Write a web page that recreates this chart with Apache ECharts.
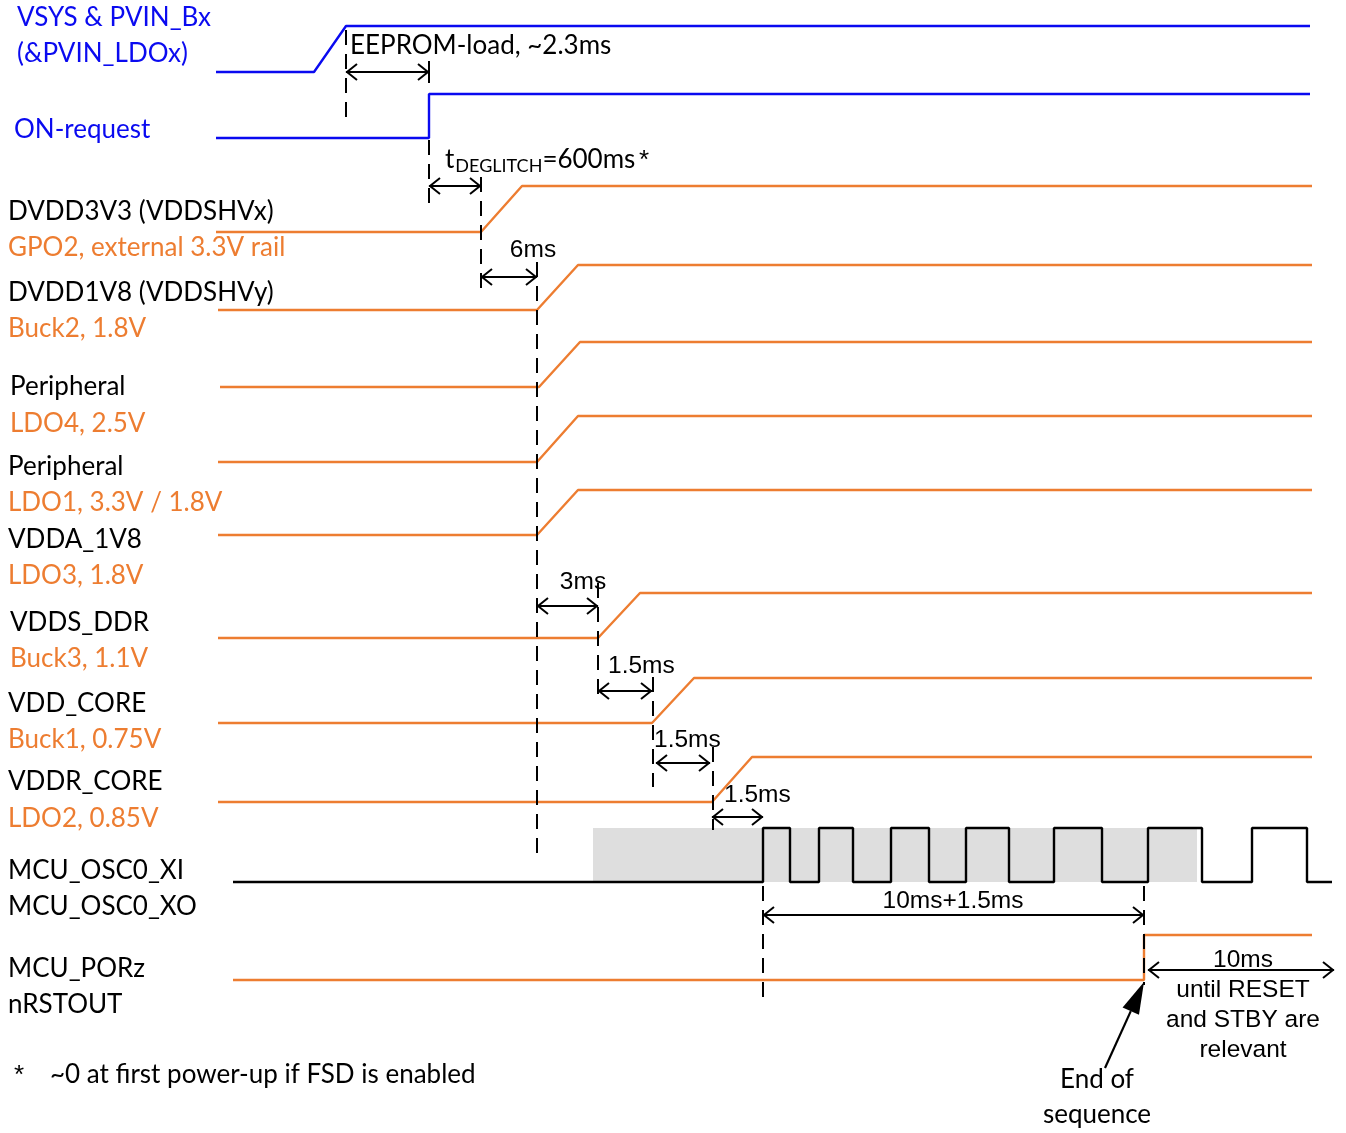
<!DOCTYPE html>
<html><head><meta charset="utf-8">
<script src="https://cdn.jsdelivr.net/npm/echarts@6/dist/echarts.min.js"></script>
<style>html,body{margin:0;padding:0;background:#fff}#c{width:1346px;height:1133px}</style>
</head><body><div id="c"></div>
<script>
// ---------- data ----------
const BLUE = '#0a0af0', ORANGE = '#ed7d31', BLACK = '#000000', GREY = '#dedede';

// supply input and ON request (blue)
const vsysTimes  = [216, 314, 346, 1310];
const vsysLevels = [72, 72, 26, 26];
const onReqTimes  = [216, 429, 429, 1310];
const onReqLevels = [138, 138, 94, 94];

// PMIC rails (orange): low level, ramp, high level
const railNames   = ['DVDD3V3 (VDDSHVx)', 'DVDD1V8 (VDDSHVy)', 'Peripheral', 'Peripheral', 'VDDA_1V8', 'VDDS_DDR', 'VDD_CORE', 'VDDR_CORE'];
const railSources = ['GPO2, external 3.3V rail', 'Buck2, 1.8V', 'LDO4, 2.5V', 'LDO1, 3.3V / 1.8V', 'LDO3, 1.8V', 'Buck3, 1.1V', 'Buck1, 0.75V', 'LDO2, 0.85V'];
const railFrom      = [216, 218, 220, 218, 218, 218, 218, 218];
const railRampStart = [481, 537, 539, 537, 537, 598, 652, 712];
const railRampEnd   = [522, 578, 580, 578, 578, 640, 694, 752];
const railTo        = [1312, 1312, 1312, 1312, 1312, 1312, 1312, 1312];
const railLow       = [232, 310, 387, 462, 535, 638, 723, 802];
const railHigh      = [186, 265, 342, 416, 490, 593, 678, 757];
const railNameY     = [212, 293, 387, 467, 540, 623, 704, 782];
const railSourceY   = [248, 329, 424, 503, 576, 659, 740, 819];
const railNameX     = [8, 8, 10, 8, 8, 10, 8, 8];

// oscillator
const clockFrom = 233, clockTo = 1332, clockLow = 882, clockHigh = 828;
const clockEdges = [763, 790, 819, 853, 891, 929, 966, 1009, 1054, 1102, 1148, 1202, 1252, 1307];
const clockUnstable = [593, 1197]; // grey "not yet stable" band

// MCU_PORz / nRSTOUT
const porTimes  = [233, 1144, 1144, 1312];
const porLevels = [980, 980, 935, 935];

// timing markers (dashed verticals)
const markerX      = [346, 429, 481, 537, 598, 653, 713, 763, 1144];
const markerTop    = [30, 140, 177, 262, 583, 677, 747, 886, 886];
const markerBottom = [120, 205, 292, 855, 702, 787, 830, 1000, 985];

// delay spans (double arrows)
const spanFrom  = [346, 429, 481, 537, 598, 656, 712, 763, 1148];
const spanTo    = [429, 481, 537, 598, 652, 710, 763, 1144, 1334];
const spanLevel = [72, 186, 277, 606, 691, 763, 817, 915, 970];
const spanLabels = ['EEPROM-load, ~2.3ms', '=600ms', '6ms', '3ms', '1.5ms', '1.5ms', '1.5ms', '10ms+1.5ms', '10ms'];

// ---------- chart ----------
const chart = echarts.init(document.getElementById('c'), null, {renderer: 'canvas'});
const CAL = 'Lato, "Open Sans", sans-serif';
const ARI = '"Liberation Sans", Arial, sans-serif';
const fCal = 26, fAri = 24.5;

function pairs(xs, ys) { return xs.map((x, i) => [x, ys[i]]); }
function lineSeries(data, color, z) {
  return {type: 'line', data, symbol: 'none', animation: false, silent: true, z: z || 3,
    lineStyle: {color, width: 2.4}, itemStyle: {color}};
}
const series = [];

// grey band
series.push({type: 'custom', animation: false, silent: true, z: 1,
  data: [[clockUnstable[0], clockUnstable[1], clockHigh, clockLow]],
  renderItem(p, api) {
    const a = api.coord([api.value(0), api.value(2)]), b = api.coord([api.value(1), api.value(3)]);
    return {type: 'rect', shape: {x: a[0], y: a[1], width: b[0] - a[0], height: b[1] - a[1]}, style: {fill: GREY}};
  }});

series.push(lineSeries(pairs(vsysTimes, vsysLevels), BLUE));
series.push(lineSeries(pairs(onReqTimes, onReqLevels), BLUE));
railNames.forEach((n, i) => {
  series.push(lineSeries([[railFrom[i], railLow[i]], [railRampStart[i], railLow[i]], [railRampEnd[i], railHigh[i]], [railTo[i], railHigh[i]]], ORANGE));
});
// clock
(function () {
  const pts = [[clockFrom, clockLow]];
  let lvl = clockLow;
  clockEdges.forEach(t => { pts.push([t, lvl]); lvl = (lvl === clockLow) ? clockHigh : clockLow; pts.push([t, lvl]); });
  pts.push([clockTo, lvl]);
  series.push(lineSeries(pts, BLACK));
})();
series.push(lineSeries(pairs(porTimes, porLevels), ORANGE));

// dashed markers
series.push({type: 'custom', animation: false, silent: true, z: 4,
  data: markerX.map((x, i) => [x, markerTop[i], markerBottom[i]]),
  renderItem(p, api) {
    const a = api.coord([api.value(0), api.value(1)]), b = api.coord([api.value(0), api.value(2)]);
    return {type: 'line', shape: {x1: a[0], y1: a[1], x2: b[0], y2: b[1]},
      style: {stroke: BLACK, lineWidth: 2, lineDash: [15, 9]}};
  }});
// solid end bar of EEPROM arrow
series.push({type: 'custom', animation: false, silent: true, z: 4,
  data: [[spanTo[0], spanLevel[0] - 11, spanLevel[0] + 11]],
  renderItem(p, api) {
    const a = api.coord([api.value(0), api.value(1)]), b = api.coord([api.value(0), api.value(2)]);
    return {type: 'line', shape: {x1: a[0], y1: a[1], x2: b[0], y2: b[1]}, style: {stroke: BLACK, lineWidth: 2}};
  }});

// double arrows
series.push({type: 'custom', animation: false, silent: true, z: 5,
  data: spanFrom.map((x, i) => [x, spanTo[i], spanLevel[i]]),
  renderItem(p, api) {
    const a = api.coord([api.value(0), api.value(2)]), b = api.coord([api.value(1), api.value(2)]);
    const h = 11, w = 8;
    const st = {stroke: BLACK, lineWidth: 2, fill: null};
    return {type: 'group', children: [
      {type: 'line', shape: {x1: a[0], y1: a[1], x2: b[0], y2: b[1]}, style: st},
      {type: 'polyline', shape: {points: [[a[0] + h, a[1] - w], [a[0] + 1, a[1]], [a[0] + h, a[1] + w]]}, style: st},
      {type: 'polyline', shape: {points: [[b[0] - h, b[1] - w], [b[0] - 1, b[1]], [b[0] - h, b[1] + w]]}, style: st}
    ]};
  }});

// "End of sequence" pointer
series.push({type: 'custom', animation: false, silent: true, z: 6,
  data: [[1105, 1068, 1144, 982]],
  renderItem(p, api) {
    const s = api.coord([api.value(0), api.value(1)]), e = api.coord([api.value(2), api.value(3)]);
    const dx = e[0] - s[0], dy = e[1] - s[1], L = Math.hypot(dx, dy), ux = dx / L, uy = dy / L;
    const hl = 32, hw = 9;
    const bx = e[0] - ux * hl, by = e[1] - uy * hl;
    return {type: 'group', children: [
      {type: 'line', shape: {x1: s[0], y1: s[1], x2: bx, y2: by}, style: {stroke: BLACK, lineWidth: 2.2}},
      {type: 'polygon', shape: {points: [[e[0], e[1]], [bx - uy * hw, by + ux * hw], [bx + uy * hw, by - ux * hw]]}, style: {fill: BLACK}}
    ]};
  }});

// ---------- texts ----------
const texts = [];
function T(text, x, y, color, font, size, align) { texts.push({text, x, y, color, font, size, align: align || 'left'}); }
T('VSYS & PVIN_Bx', 17, 18, BLUE, CAL, fCal);
T('(&PVIN_LDOx)', 17, 54, BLUE, CAL, fCal);
T('ON-request', 14, 130, BLUE, CAL, fCal);
railNames.forEach((n, i) => {
  T(n, railNameX[i], railNameY[i], BLACK, CAL, fCal);
  T(railSources[i], railNameX[i], railSourceY[i], ORANGE, CAL, fCal);
});
T('MCU_OSC0_XI', 8, 871, BLACK, CAL, fCal);
T('MCU_OSC0_XO', 8, 907, BLACK, CAL, fCal);
T('MCU_PORz', 8, 969, BLACK, CAL, fCal);
T('nRSTOUT', 8, 1005, BLACK, CAL, fCal);
T(spanLabels[0], 350, 46, BLACK, CAL, fCal);
T(spanLabels[2], 533, 250, BLACK, ARI, fAri, 'center');
T(spanLabels[3], 583, 582, BLACK, ARI, fAri, 'center');
T(spanLabels[4], 608, 666, BLACK, ARI, fAri);
T(spanLabels[5], 654, 740, BLACK, ARI, fAri);
T(spanLabels[6], 724, 795, BLACK, ARI, fAri);
T(spanLabels[7], 953, 901, BLACK, ARI, fAri, 'center');
T(spanLabels[8], 1243, 960, BLACK, ARI, fAri, 'center');
T('until RESET', 1243, 990, BLACK, ARI, fAri, 'center');
T('and STBY are', 1243, 1020, BLACK, ARI, fAri, 'center');
T('relevant', 1243, 1050, BLACK, ARI, fAri, 'center');
T('End of', 1097, 1080, BLACK, CAL, fCal, 'center');
T('sequence', 1097, 1115, BLACK, CAL, fCal, 'center');
T('*', 14, 1076, BLACK, ARI, 26);
T('~0 at first power-up if FSD is enabled', 50, 1075, BLACK, CAL, fCal);

series.push({type: 'custom', animation: false, silent: true, z: 10,
  data: texts.map(t => [t.x, t.y]),
  renderItem(p, api) {
    const t = texts[p.dataIndex];
    const c = api.coord([api.value(0), api.value(1)]);
    return {type: 'text', x: c[0], y: c[1], style: {text: t.text, fill: t.color,
      font: t.size + 'px ' + t.font, textAlign: t.align, textVerticalAlign: 'middle'}};
  }});

// t_DEGLITCH label with subscript
const measure = document.createElement('canvas').getContext('2d');
series.push({type: 'custom', animation: false, silent: true, z: 10,
  data: [[445, 160]],
  renderItem(p, api) {
    const c = api.coord([api.value(0), api.value(1)]);
    measure.font = fCal + 'px ' + CAL;
    const w1 = measure.measureText('t').width;
    const w3 = measure.measureText(spanLabels[1] + ' ').width;
    const subSize = 18;
    measure.font = subSize + 'px ' + CAL;
    const w2 = measure.measureText('DEGLITCH').width;
    return {type: 'group', children: [
      {type: 'text', x: c[0], y: c[1], style: {text: 't', fill: BLACK, font: fCal + 'px ' + CAL, textVerticalAlign: 'middle'}},
      {type: 'text', x: c[0] + w1 + 1, y: c[1] + 6, style: {text: 'DEGLITCH', fill: BLACK, font: subSize + 'px ' + CAL, textVerticalAlign: 'middle'}},
      {type: 'text', x: c[0] + w1 + w2 + 1, y: c[1], style: {text: spanLabels[1], fill: BLACK, font: fCal + 'px ' + CAL, textVerticalAlign: 'middle'}},
      {type: 'text', x: c[0] + w1 + w2 + w3 - 2, y: c[1] + 1, style: {text: '*', fill: BLACK, font: '26px ' + ARI, textVerticalAlign: 'middle'}}
    ]};
  }});

chart.setOption({
  animation: false,
  grid: {left: 0, right: 0, top: 0, bottom: 0},
  xAxis: {type: 'value', min: 0, max: 1346, show: false},
  yAxis: {type: 'value', min: 0, max: 1133, inverse: true, show: false},
  series
});
</script></body></html>
